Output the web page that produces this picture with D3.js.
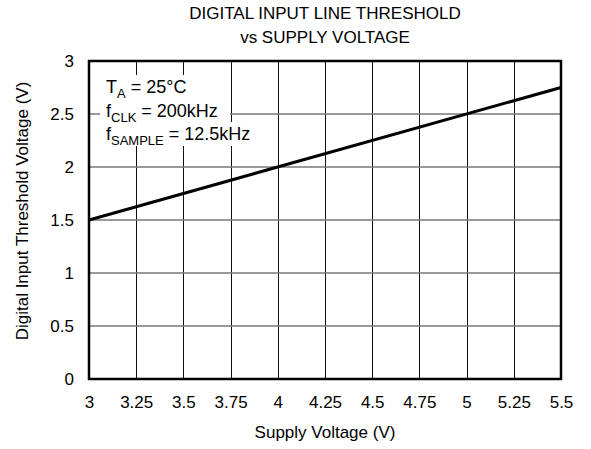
<!DOCTYPE html>
<html>
<head>
<meta charset="utf-8">
<script src="https://cdn.jsdelivr.net/npm/d3@7"></script>
<style>
  body { margin: 0; background: #fff; }
  text { font-family: "Liberation Sans", Arial, sans-serif; fill: #000; }
</style>
</head>
<body>
<div id="chart"></div>
<script>
// digital input line threshold vs supply voltage
let supplyVoltage = [3, 5.5];
let thresholdVoltage = [1.5, 2.75];
let xTicks = [3, 3.25, 3.5, 3.75, 4, 4.25, 4.5, 4.75, 5, 5.25, 5.5];
let yTicks = [0, 0.5, 1, 1.5, 2, 2.5, 3];
let titleLines = ['DIGITAL INPUT LINE THRESHOLD', 'vs SUPPLY VOLTAGE'];

let margin = {top: 61, right: 30, bottom: 70, left: 89},
    width = 591 - margin.left - margin.right,
    height = 449 - margin.top - margin.bottom;

let fontsize = '17px';

let svg = d3.select('#chart').append('svg')
    .attr('width', 591)
    .attr('height', 449)
  .append('g')
    .attr('transform', 'translate(' + margin.left + ',' + margin.top + ')');

let x = d3.scaleLinear().domain([3, 5.5]).range([0, width]);
let y = d3.scaleLinear().domain([0, 3]).range([height, 0]);

// grid
svg.append('g').selectAll('line')
    .data(xTicks.slice(1, -1))
  .enter().append('line')
    .attr('x1', d => Math.round(x(d)) + 0.5).attr('x2', d => Math.round(x(d)) + 0.5)
    .attr('y1', 0).attr('y2', height)
    .style('stroke', '#111').style('stroke-width', 1);

svg.append('g').selectAll('line')
    .data(yTicks.slice(1, -1))
  .enter().append('line')
    .attr('y1', d => y(d)).attr('y2', d => y(d))
    .attr('x1', 0).attr('x2', width)
    .style('stroke', '#777').style('stroke-width', 1.5);

// data line
let line = d3.line()
    .x((d, i) => x(supplyVoltage[i]))
    .y(d => y(d));

svg.append('path')
    .datum(thresholdVoltage)
    .attr('d', line)
    .style('fill', 'none')
    .style('stroke', '#000')
    .style('stroke-width', 3);

// frame
svg.append('rect')
    .attr('width', width).attr('height', height)
    .style('fill', 'none').style('stroke', '#000').style('stroke-width', 2.5);

// axes (labels only)
let xAxis = d3.axisBottom(x).tickValues(xTicks).tickSize(0).tickPadding(17)
    .tickFormat(d3.format('~g'));
let yAxis = d3.axisLeft(y).tickValues(yTicks).tickSize(0).tickPadding(15)
    .tickFormat(d3.format('~g'));

svg.append('g')
    .attr('class', 'x axis')
    .attr('transform', 'translate(0,' + height + ')')
    .call(xAxis)
    .call(g => g.select('.domain').remove())
    .selectAll('text').style('font-size', fontsize).style('font-family', '"Liberation Sans", Arial, sans-serif');

svg.append('g')
    .attr('class', 'y axis')
    .call(yAxis)
    .call(g => g.select('.domain').remove())
    .selectAll('text').style('font-size', fontsize).style('font-family', '"Liberation Sans", Arial, sans-serif');

// axis titles
svg.append('text')
    .attr('x', width / 2)
    .attr('y', height + 59)
    .style('text-anchor', 'middle')
    .style('font-size', fontsize)
    .text('Supply Voltage (V)');

svg.append('text')
    .attr('transform', 'rotate(-90)')
    .attr('x', -(height / 2) + 9)
    .attr('y', -margin.left + 28)
    .style('text-anchor', 'middle')
    .style('font-size', fontsize)
    .text('Digital Input Threshold Voltage (V)');

// heading
svg.append('g')
    .attr('class', 'heading')
  .selectAll('text')
    .data(titleLines)
  .enter().append('text')
    .attr('x', width / 2)
    .attr('y', (d, i) => -42 + i * 24)
    .style('text-anchor', 'middle')
    .style('font-size', fontsize)
    .text(d => d);

// conditions, each line on its own white background
let notes = [
    {main: 'T', sub: 'A', rest: ' = 25°C'},
    {main: 'f', sub: 'CLK', rest: ' = 200kHz'},
    {main: 'f', sub: 'SAMPLE', rest: ' = 12.5kHz'}
];

let notegroup = svg.append('g').attr('class', 'notes');
let bgs = notegroup.append('g');

let note = notegroup.append('g').selectAll('text')
    .data(notes)
  .enter().append('text')
    .attr('x', 17)
    .attr('y', (d, i) => 32 + i * 23.5)
    .style('font-size', '18px');

note.append('tspan').text(d => d.main);
note.append('tspan').attr('dy', 5).style('font-size', '13px').text(d => d.sub);
note.append('tspan').attr('dy', -5).text(d => d.rest);

note.each(function(d, i) {
    let bb = this.getBBox();
    bgs.append('rect')
        .attr('x', 11)
        .attr('y', 32 + i * 23.5 - 18)
        .attr('width', bb.x + bb.width - 11 + 12)
        .attr('height', 24)
        .style('fill', '#fff');
});
</script>
</body>
</html>
